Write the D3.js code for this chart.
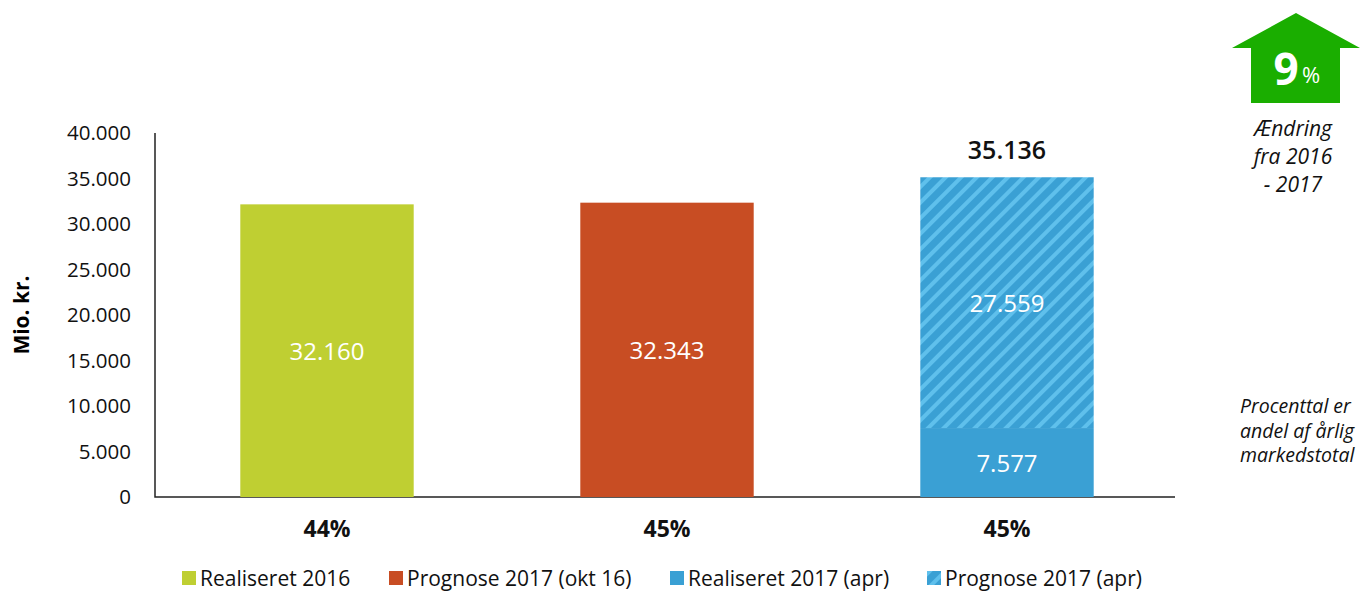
<!DOCTYPE html>
<meta charset="utf-8">
<script src="https://cdn.jsdelivr.net/npm/d3@7"></script>
<style>
  body { margin: 0; background: #fff; }
  text { font-family: "Open Sans", sans-serif; }
</style>
<body>
<script>
// data
var categories = ["Realiseret 2016", "Prognose 2017 (okt 16)", "2017 (apr)"];
var realiseret = [32160, 32343, 7577];
var prognose = [0, 0, 27559];
var totals = [null, null, 35136];
var shares = ["44%", "45%", "45%"];
var yTicks = [0, 5000, 10000, 15000, 20000, 25000, 30000, 35000, 40000];
var legendLabels = ["Realiseret 2016", "Prognose 2017 (okt 16)", "Realiseret 2017 (apr)", "Prognose 2017 (apr)"];
var barColors = ["#bfcf32", "#c84d23", "#3aa0d4"];

var W = 1368, H = 592;
var svg = d3.select("body").append("svg").attr("width", W).attr("height", H);
var fmt = function(d) { return d3.format(",")(d).replace(/,/g, "."); };

var defs = svg.append("defs");
var pat = defs.append("pattern")
    .attr("id", "hatch")
    .attr("patternUnits", "userSpaceOnUse")
    .attr("width", 11).attr("height", 11)
    .attr("patternTransform", "rotate(45)");
pat.append("rect").attr("width", 11).attr("height", 11).attr("fill", "#3aa0d4");
pat.append("rect").attr("x", 0).attr("width", 4).attr("height", 11).attr("fill", "#5fc0ec");

var x = d3.scaleBand().domain(d3.range(3)).range([157, 1177]).paddingInner(0.49).paddingOuter(0.245);
var y = d3.scaleLinear().domain([0, 40000]).range([497, 133]);

// axes
var yAxis = svg.append("g").attr("transform", "translate(155,0)")
    .call(d3.axisLeft(y).tickValues(yTicks).tickSize(0).tickPadding(24).tickFormat(fmt));
yAxis.select(".domain").remove();
yAxis.selectAll("text").attr("font-size", 20.5).attr("fill", "#111").attr("font-family", "Open Sans");

svg.append("path").attr("d", "M" + 155 + "," + y(40000) + "V" + y(0) + "H1175")
    .attr("fill", "none").attr("stroke", "#222").attr("stroke-width", 1.5);

svg.append("text").attr("transform", "translate(29," + y(20000) + ") rotate(-90)")
    .attr("text-anchor", "middle").attr("font-size", 21).attr("font-weight", "bold").text("Mio. kr.");

// bars
var bars = svg.append("g");
bars.selectAll("rect.real").data(realiseret).join("rect")
    .attr("x", function(d, i) { return x(i); })
    .attr("width", x.bandwidth())
    .attr("y", function(d) { return y(d); })
    .attr("height", function(d) { return y(0) - y(d); })
    .attr("fill", function(d, i) { return barColors[i]; });

bars.selectAll("rect.prog").data(prognose).join("rect")
    .filter(function(d) { return d > 0; })
    .attr("x", x(2))
    .attr("width", x.bandwidth())
    .attr("y", function(d) { return y(d + realiseret[2]); })
    .attr("height", function(d) { return y(0) - y(d); })
    .attr("fill", "url(#hatch)");

// value labels
svg.selectAll("text.val").data(realiseret).join("text")
    .attr("x", function(d, i) { return x(i) + x.bandwidth() / 2; })
    .attr("y", function(d) { return y(d / 2) + 9; })
    .attr("text-anchor", "middle").attr("font-size", 24).attr("fill", "#fff")
    .text(fmt);

svg.selectAll("text.prog").data(prognose).join("text")
    .filter(function(d) { return d > 0; })
    .attr("x", x(2) + x.bandwidth() / 2)
    .attr("y", function(d) { return y(realiseret[2] + d / 2) + 9; })
    .attr("text-anchor", "middle").attr("font-size", 24).attr("fill", "#fff")
    .text(fmt);

svg.selectAll("text.tot").data(totals).join("text")
    .filter(function(d) { return d != null; })
    .attr("x", x(2) + x.bandwidth() / 2)
    .attr("y", function(d) { return y(d) - 18; })
    .attr("text-anchor", "middle").attr("font-size", 25).attr("font-weight", 600).attr("fill", "#111")
    .text(fmt);

// shares
svg.selectAll("text.share").data(shares).join("text")
    .attr("x", function(d, i) { return x(i) + x.bandwidth() / 2; })
    .attr("y", 537)
    .attr("text-anchor", "middle").attr("font-size", 23).attr("font-weight", "bold").attr("fill", "#111")
    .text(function(d) { return d; });

// legend
var legendX = [182, 389, 670, 927];
var legendFill = ["#bfcf32", "#c84d23", "#3aa0d4", "url(#hatch)"];
var lg = svg.selectAll("g.leg").data(legendLabels).join("g")
    .attr("transform", function(d, i) { return "translate(" + legendX[i] + ",571)"; });
lg.append("rect").attr("width", 14).attr("height", 14).attr("fill", function(d, i) { return legendFill[i]; });
lg.append("text").attr("x", 18).attr("y", 15).attr("font-size", 21).attr("fill", "#111").text(function(d) { return d; });

// change arrow
var arrow = svg.append("g");
arrow.append("path")
    .attr("d", "M1296,13 L1360,48 L1340,48 L1340,103 L1251,103 L1251,48 L1232,48 Z")
    .attr("fill", "#1aae00");
arrow.append("text").attr("x", 1286).attr("y", 85).attr("text-anchor", "middle")
    .attr("font-size", 44).attr("font-weight", "bold").attr("fill", "#fff").text("9");
arrow.append("text").attr("x", 1302).attr("y", 83)
    .attr("font-size", 22).attr("fill", "#fff").text("%");
["Ændring", "fra 2016", "- 2017"].forEach(function(t, i) {
  arrow.append("text").attr("x", 1293).attr("y", 136 + i * 28).attr("text-anchor", "middle")
    .attr("font-size", 21).attr("font-style", "italic")
    .attr("fill", "#111").text(t);
});

// note
["Procenttal er", "andel af årlig", "markedstotal"].forEach(function(t, i) {
  svg.append("text").attr("x", 1240).attr("y", 413 + i * 24.5)
    .attr("font-size", 19.5).attr("font-style", "italic").attr("fill", "#111").text(t);
});
</script>
</body>
